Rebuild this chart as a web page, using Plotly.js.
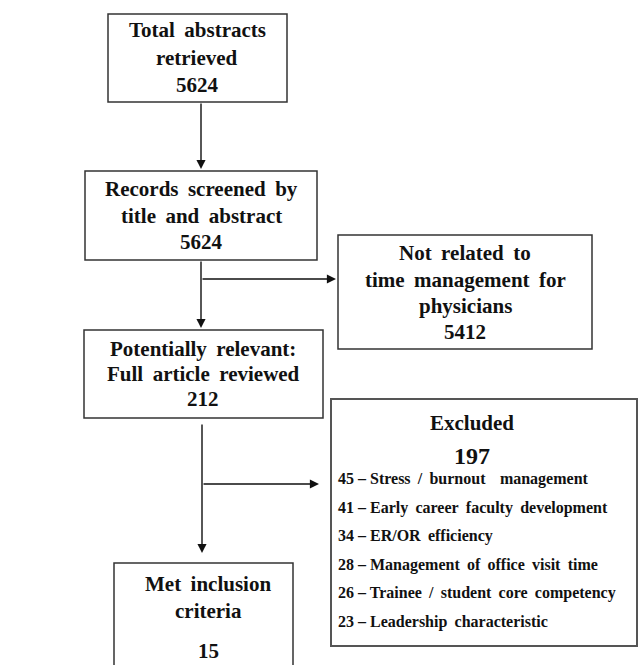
<!DOCTYPE html>
<html><head><meta charset="utf-8">
<script src="https://cdn.plot.ly/plotly-3.0.1.min.js"></script>
<style>html,body{margin:0;padding:0;background:#fff}#chart{width:638px;height:665px}</style>
</head><body><div id="chart"></div>
<script>
// ---- data ----
const stageTitles = [
  ["Total abstracts", "retrieved"],
  ["Records screened by", "title and abstract"],
  ["Not related to", "time management for", "physicians"],
  ["Potentially relevant:", "Full article reviewed"],
  ["Excluded"],
  ["Met inclusion", "criteria"]
];
const stageCounts = [5624, 5624, 5412, 212, 197, 15];
const excludedReasons = [
  "Stress / burnout  management",
  "Early career faculty development",
  "ER/OR efficiency",
  "Management of office visit time",
  "Trainee / student core competency",
  "Leadership characteristic"
];
const excludedCounts = [45, 41, 34, 28, 26, 23];

// ---- layout geometry (pixels, y downward) ----
const boxes = [
  {x0:108, x1:287, y0:14,  y1:102, lines:[30,58], num:85, cx:197},
  {x0:85,  x1:317, y0:171, y1:260, lines:[189,216], num:242, cx:201},
  {x0:338, x1:592, y0:235, y1:349, lines:[253,280,306], num:332, cx:465},
  {x0:84,  x1:323, y0:330, y1:418, lines:[349,374], num:399, cx:203},
  {x0:331, x1:637, y0:399, y1:646, lines:[423], num:456, cx:472},
  {x0:114, x1:293, y0:563, y1:690, lines:[584,611], num:651, cx:208}
];
const font = {family:"Liberation Serif", color:"#111", weight:"bold"};
const wide = s => s.replace(/ +/g, m => m.split("").map(()=>"\u2009 ").join(""));
const shapes = [], annotations = [];
boxes.forEach((b,i)=>{
  shapes.push({type:"rect", xref:"x", yref:"y", x0:b.x0, x1:b.x1, y0:b.y0, y1:b.y1,
    line:{color: i===4 ? "#555" : "#333", width: i===4 ? 2 : 1.5}, fillcolor:"rgba(0,0,0,0)"});
  stageTitles[i].forEach((t,k)=>{
    annotations.push({x:b.cx, y:b.lines[k], xref:"x", yref:"y", text:wide(t),
      showarrow:false, font:Object.assign({size:21}, font), xanchor:"center", yanchor:"middle"});
  });
  annotations.push({x:b.cx, y:b.num, xref:"x", yref:"y", text:String(stageCounts[i]),
    showarrow:false, font:Object.assign({size: i===4 ? 24 : 21}, font), xanchor:"center", yanchor:"middle"});
});
excludedReasons.forEach((r,k)=>{
  annotations.push({x:336, y:479 + k*28.5, xref:"x", yref:"y",
    text:excludedCounts[k]+" – "+wide(r), showarrow:false,
    font:Object.assign({size:16}, font), xanchor:"left", yanchor:"middle"});
});
// connectors
const arrows = [
  {x:201, y:169, ax:201, ay:102},
  {x:201, y:328, ax:201, ay:260},
  {x:336, y:279, ax:201, ay:279},
  {x:202, y:553, ax:202, ay:423},
  {x:319, y:484, ax:202, ay:484}
];
arrows.forEach(a=>{
  annotations.push({x:a.x, y:a.y, ax:a.ax, ay:a.ay, xref:"x", yref:"y", axref:"x", ayref:"y",
    text:"", showarrow:true, arrowhead:2, arrowsize:1.3, arrowwidth:1.4, arrowcolor:"#111", standoff:0});
});

Plotly.newPlot("chart", [{x:[0,638], y:[0,665], mode:"markers", marker:{opacity:0}, hoverinfo:"skip", showlegend:false}], {
  width:638, height:665, margin:{l:0,r:0,t:0,b:0},
  paper_bgcolor:"#fff", plot_bgcolor:"#fff",
  xaxis:{range:[0,638], visible:false, fixedrange:true},
  yaxis:{range:[665,0], visible:false, fixedrange:true},
  shapes:shapes, annotations:annotations, showlegend:false
}, {displayModeBar:false, staticPlot:true});
</script></body></html>
